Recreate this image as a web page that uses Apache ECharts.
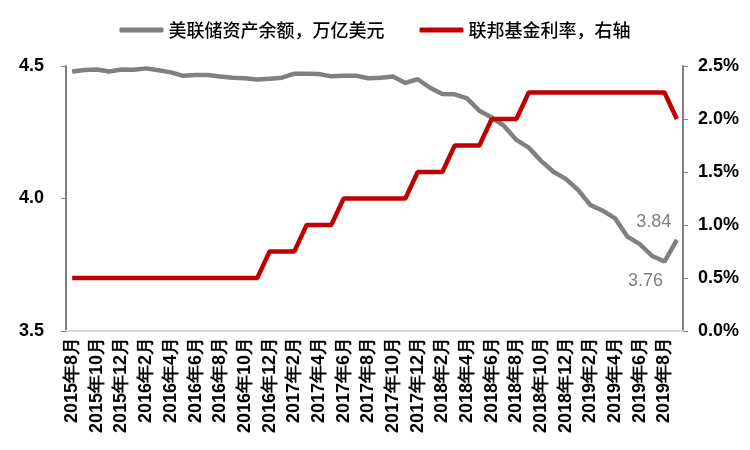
<!DOCTYPE html>
<html>
<head>
<meta charset="utf-8">
<script src="https://cdn.jsdelivr.net/npm/echarts@6/dist/echarts.min.js"></script>
<style>
  html, body { margin: 0; padding: 0; background: #fff; }
  #chart { width: 750px; height: 450px; }
</style>
</head>
<body>
<div id="chart"></div>
<script>
  // monthly categories, 2015-08 .. 2019-09
  var months = [
    "2015年8月", "2015年9月", "2015年10月", "2015年11月", "2015年12月",
    "2016年1月", "2016年2月", "2016年3月", "2016年4月", "2016年5月", "2016年6月",
    "2016年7月", "2016年8月", "2016年9月", "2016年10月", "2016年11月", "2016年12月",
    "2017年1月", "2017年2月", "2017年3月", "2017年4月", "2017年5月", "2017年6月",
    "2017年7月", "2017年8月", "2017年9月", "2017年10月", "2017年11月", "2017年12月",
    "2018年1月", "2018年2月", "2018年3月", "2018年4月", "2018年5月", "2018年6月",
    "2018年7月", "2018年8月", "2018年9月", "2018年10月", "2018年11月", "2018年12月",
    "2019年1月", "2019年2月", "2019年3月", "2019年4月", "2019年5月", "2019年6月",
    "2019年7月", "2019年8月", "2019年9月"
  ];

  // 美联储资产余额 (万亿美元)
  var fedAssets = [
    4.479, 4.485, 4.487, 4.479, 4.487, 4.486, 4.491, 4.484, 4.476, 4.463,
    4.466, 4.466, 4.460, 4.456, 4.454, 4.449, 4.452, 4.456, 4.471, 4.471,
    4.470, 4.461, 4.463, 4.463, 4.454, 4.456, 4.460, 4.436, 4.450, 4.418,
    4.394, 4.393, 4.378, 4.331, 4.306, 4.274, 4.221, 4.192, 4.142, 4.101,
    4.074, 4.032, 3.975, 3.954, 3.925, 3.856, 3.828, 3.783, 3.762, 3.844
  ];

  // 联邦基金利率 (%), right axis
  var fedRate = [
    0.5, 0.5, 0.5, 0.5, 0.5, 0.5, 0.5, 0.5, 0.5, 0.5,
    0.5, 0.5, 0.5, 0.5, 0.5, 0.5, 0.75, 0.75, 0.75, 1.0,
    1.0, 1.0, 1.25, 1.25, 1.25, 1.25, 1.25, 1.25, 1.5, 1.5,
    1.5, 1.75, 1.75, 1.75, 2.0, 2.0, 2.0, 2.25, 2.25, 2.25,
    2.25, 2.25, 2.25, 2.25, 2.25, 2.25, 2.25, 2.25, 2.25, 2.0
  ];

  var seriesNames = ["美联储资产余额，万亿美元", "联邦基金利率，右轴"];
  var leftTicks = { min: 3.5, max: 4.5, step: 0.5 };
  var rightTicks = { min: 0, max: 2.5, step: 0.5 };

  var GREY = "#808080", RED = "#c00000", AXIS = "#808080", XAXIS = "#d9d9d9";
  var NUM_FONT = "Arial, 'Liberation Sans', sans-serif";

  // only the last two points carry value labels; labels hang off symbols,
  // so every point keeps a tiny symbol hidden inside the line
  var assetData = fedAssets.map(function (v, i) {
    var last = fedAssets.length - 1;
    if (i === last) {
      return { value: v, label: { show: true, position: "left", offset: [0, -18] } };
    }
    if (i === last - 1) {
      return { value: v, label: { show: true, position: "left", offset: [4, 19] } };
    }
    return v;
  });

  var chart = echarts.init(document.getElementById("chart"), null, { renderer: "canvas" });

  chart.setOption({
    animation: false,
    backgroundColor: "#fff",
    grid: { left: 66, right: 67, top: 66, bottom: 119 },
    legend: {
      top: 16,
      left: "center",
      itemWidth: 44,
      itemHeight: 5,
      itemGap: 35,
      icon: "roundRect",
      textStyle: { fontFamily: "'Noto Sans CJK SC', sans-serif", fontSize: 18, fontWeight: 500, color: "#000" },
      data: seriesNames
    },
    xAxis: {
      type: "category",
      data: months,
      boundaryGap: true,
      axisLine: { lineStyle: { color: XAXIS, width: 2 } },
      axisTick: { interval: 1, length: 5, lineStyle: { color: XAXIS, width: 1 } },
      axisLabel: {
        interval: 1, rotate: 90, margin: 6,
        fontFamily: NUM_FONT, fontSize: 18, fontWeight: "bold", color: "#000"
      },
      splitLine: { show: false }
    },
    yAxis: [{
      type: "value",
      min: leftTicks.min, max: leftTicks.max, interval: leftTicks.step,
      axisLine: { show: true, lineStyle: { color: AXIS, width: 2 } },
      axisTick: { show: true, length: 5, lineStyle: { color: AXIS } },
      axisLabel: {
        margin: 22, fontFamily: NUM_FONT, fontSize: 18, fontWeight: "bold", color: "#000",
        formatter: function (v) { return v.toFixed(1); }
      },
      splitLine: { show: false }
    }, {
      type: "value",
      min: rightTicks.min, max: rightTicks.max, interval: rightTicks.step,
      position: "right",
      axisLine: { show: true, lineStyle: { color: AXIS, width: 2 } },
      axisTick: { show: true, length: 5, lineStyle: { color: AXIS } },
      axisLabel: {
        margin: 15, fontFamily: NUM_FONT, fontSize: 18, fontWeight: "bold", color: "#000",
        formatter: function (v) { return v.toFixed(1) + "%"; }
      },
      splitLine: { show: false }
    }],
    series: [{
      name: seriesNames[0],
      type: "line",
      yAxisIndex: 0,
      data: assetData,
      symbol: "circle",
      symbolSize: 1,
      showSymbol: true,
      showAllSymbol: true,
      itemStyle: { color: GREY },
      lineStyle: { color: GREY, width: 4.5 },
      label: {
        show: false,
        fontFamily: NUM_FONT, fontSize: 18, color: GREY,
        formatter: function (p) { return p.value.toFixed(2); }
      }
    }, {
      name: seriesNames[1],
      type: "line",
      yAxisIndex: 1,
      data: fedRate,
      symbol: "none",
      itemStyle: { color: RED },
      lineStyle: { color: RED, width: 4.5 }
    }]
  });
</script>
</body>
</html>
